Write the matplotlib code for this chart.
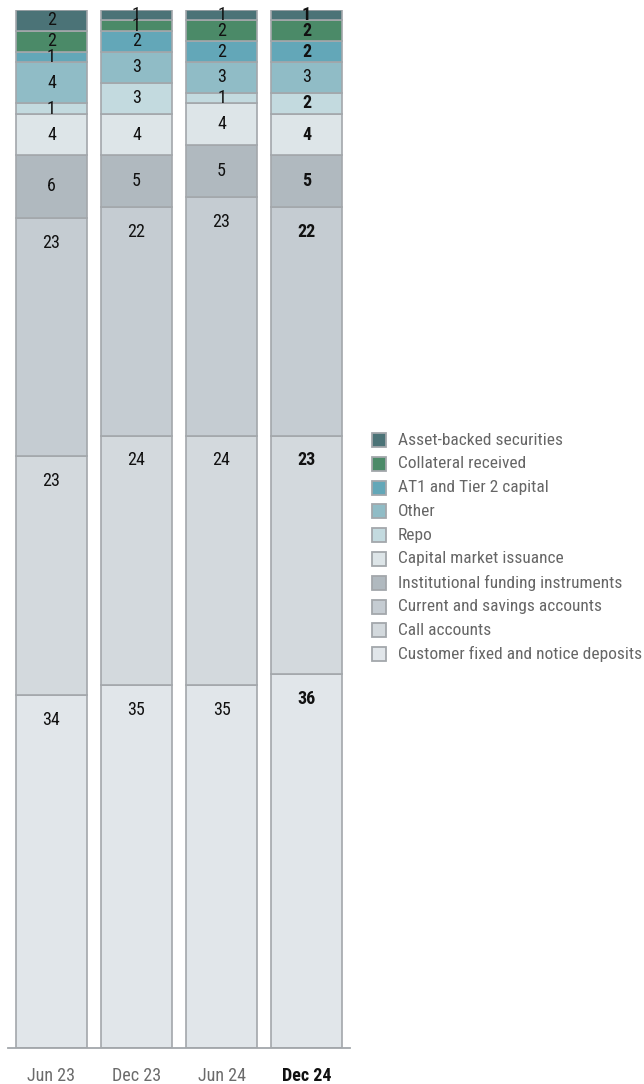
import matplotlib
matplotlib.use("Agg")
import matplotlib.pyplot as plt
from matplotlib import font_manager
from matplotlib.patches import Rectangle

# Funding mix by period, in percent (stacked bottom to top)
periods = ["Jun 23", "Dec 23", "Jun 24", "Dec 24"]

customer_deposits = [34, 35, 35, 36]
call_accounts = [23, 24, 24, 23]
current_savings = [23, 22, 23, 22]
institutional_funding = [6, 5, 5, 5]
capital_market = [4, 4, 4, 4]
repo = [1, 3, 1, 2]
other = [4, 3, 3, 3]
at1_tier2 = [1, 2, 2, 2]
collateral = [2, 1, 2, 2]
asset_backed = [2, 1, 1, 1]

series = [
    ("Customer fixed and notice deposits", customer_deposits, "#e1e6ea"),
    ("Call accounts", call_accounts, "#d3d9dd"),
    ("Current and savings accounts", current_savings, "#c5ccd2"),
    ("Institutional funding instruments", institutional_funding, "#b0b9bf"),
    ("Capital market issuance", capital_market, "#dde5e8"),
    ("Repo", repo, "#c3dadf"),
    ("Other", other, "#90bcc6"),
    ("AT1 and Tier 2 capital", at1_tier2, "#63a7b8"),
    ("Collateral received", collateral, "#4b8a68"),
    ("Asset-backed securities", asset_backed, "#4b7377"),
]

# Prefer a narrow sans face when one is installed
fonts = font_manager.fontManager.ttflist
names = {f.name for f in fonts}
stretch = "normal"
if "Liberation Sans Narrow" in names:
    FONT = ["Liberation Sans Narrow", "DejaVu Sans"]
    FS_LEG, FS_VAL, FS_TICK = 12.5, 13, 13
elif "Roboto Condensed" in names:
    FONT = ["Roboto Condensed", "DejaVu Sans"]
    FS_LEG, FS_VAL, FS_TICK = 12.5, 13, 13
elif any(f.name == "DejaVu Sans" and f.stretch == "condensed" for f in fonts):
    FONT = ["DejaVu Sans"]
    stretch = "condensed"
    FS_LEG, FS_VAL, FS_TICK = 10.5, 11.5, 11.5
else:
    FONT = ["Roboto", "DejaVu Sans"]
    FS_LEG, FS_VAL, FS_TICK = 10.6, 11.5, 11.5
plt.rcParams["font.family"] = FONT
plt.rcParams["font.stretch"] = stretch

W, H = 644, 1084
fig = plt.figure(figsize=(W / 100, H / 100), dpi=100)
ax = fig.add_axes([8 / W, (H - 1048) / H, (350 - 8) / W, (1048 - 10) / H])

EDGE = "#a3a7ab"
x = list(range(len(periods)))
bottoms = [0.0] * len(periods)
for name, vals, color in series:
    ax.bar(x, vals, width=0.835, bottom=bottoms, color=color,
           edgecolor=EDGE, linewidth=1.2, zorder=2)
    for i, v in enumerate(vals):
        top = bottoms[i] + v
        if v >= 15:
            ypos = top - 2.4
        else:
            ypos = bottoms[i] + v / 2
        bold = (i == len(periods) - 1) and name != "Other"
        ax.text(i, ypos, f"{v}", ha="center", va="center", fontsize=FS_VAL,
                color="#111111", fontweight="bold" if bold else "normal",
                zorder=3)
        bottoms[i] = top

ax.set_xlim(-0.51, 3.51)
ax.set_ylim(0, 100)
for s in ["left", "right", "top"]:
    ax.spines[s].set_visible(False)
ax.spines["bottom"].set_color("#a3a7ab")
ax.spines["bottom"].set_linewidth(1.3)
ax.set_yticks([])
ax.set_xticks(x)
ax.set_xticklabels(periods)
ax.tick_params(axis="x", length=0, pad=14, labelsize=FS_TICK,
               labelcolor="#6b6b6b")
last = ax.get_xticklabels()[-1]
last.set_fontweight("bold")
last.set_color("#111111")

# Legend, top entry first
y0 = 440
step = 23.8
sq = 14
for k, (name, vals, color) in enumerate(reversed(series)):
    yc = y0 + k * step
    fig.add_artist(Rectangle((372 / W, (H - yc - sq / 2) / H), sq / W, sq / H,
                             transform=fig.transFigure, facecolor=color,
                             edgecolor=EDGE, linewidth=1.3))
    fig.text(398 / W, (H - yc) / H, name, ha="left", va="center",
             fontsize=FS_LEG, color="#666666")

fig.savefig("out.png", dpi=100)
